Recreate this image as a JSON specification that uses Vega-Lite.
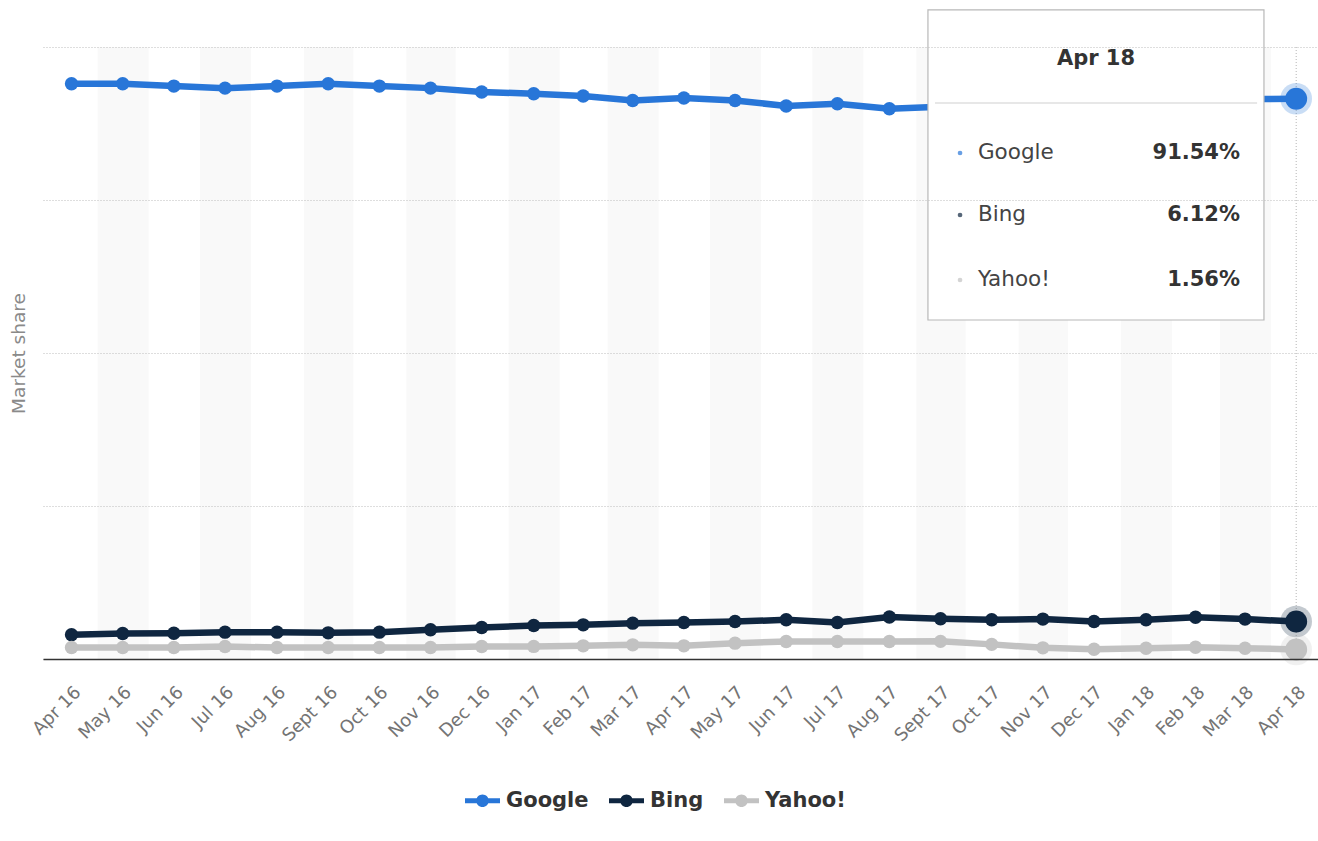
{
  "$schema": "https://vega.github.io/schema/vega-lite/v6.json",
  "autosize": {"type": "none"},
  "padding": {"left": 43, "top": 47, "right": 0, "bottom": 182},
  "width": 1275,
  "height": 612,
  "config": {
    "view": {"stroke": null},
    "font": "DejaVu Sans",
    "background": "white"
  },
  "data": {
    "values": [
      {"month": "2016-04-01", "engine": "Google", "share": 93.99},
      {"month": "2016-05-01", "engine": "Google", "share": 93.99},
      {"month": "2016-06-01", "engine": "Google", "share": 93.61},
      {"month": "2016-07-01", "engine": "Google", "share": 93.28},
      {"month": "2016-08-01", "engine": "Google", "share": 93.61},
      {"month": "2016-09-01", "engine": "Google", "share": 93.99},
      {"month": "2016-10-01", "engine": "Google", "share": 93.61},
      {"month": "2016-11-01", "engine": "Google", "share": 93.28},
      {"month": "2016-12-01", "engine": "Google", "share": 92.65},
      {"month": "2017-01-01", "engine": "Google", "share": 92.37},
      {"month": "2017-02-01", "engine": "Google", "share": 91.99},
      {"month": "2017-03-01", "engine": "Google", "share": 91.27},
      {"month": "2017-04-01", "engine": "Google", "share": 91.67},
      {"month": "2017-05-01", "engine": "Google", "share": 91.27},
      {"month": "2017-06-01", "engine": "Google", "share": 90.36},
      {"month": "2017-07-01", "engine": "Google", "share": 90.73},
      {"month": "2017-08-01", "engine": "Google", "share": 89.91},
      {"month": "2017-09-01", "engine": "Google", "share": 90.24},
      {"month": "2017-10-01", "engine": "Google", "share": 90.6},
      {"month": "2017-11-01", "engine": "Google", "share": 91.0},
      {"month": "2017-12-01", "engine": "Google", "share": 91.5},
      {"month": "2018-01-01", "engine": "Google", "share": 91.3},
      {"month": "2018-02-01", "engine": "Google", "share": 90.9},
      {"month": "2018-03-01", "engine": "Google", "share": 91.5},
      {"month": "2018-04-01", "engine": "Google", "share": 91.54},
      {"month": "2016-04-01", "engine": "Bing", "share": 3.95},
      {"month": "2016-05-01", "engine": "Bing", "share": 4.16},
      {"month": "2016-06-01", "engine": "Bing", "share": 4.22},
      {"month": "2016-07-01", "engine": "Bing", "share": 4.39},
      {"month": "2016-08-01", "engine": "Bing", "share": 4.39},
      {"month": "2016-09-01", "engine": "Bing", "share": 4.27},
      {"month": "2016-10-01", "engine": "Bing", "share": 4.39},
      {"month": "2016-11-01", "engine": "Bing", "share": 4.77},
      {"month": "2016-12-01", "engine": "Bing", "share": 5.14},
      {"month": "2017-01-01", "engine": "Bing", "share": 5.47},
      {"month": "2017-02-01", "engine": "Bing", "share": 5.58},
      {"month": "2017-03-01", "engine": "Bing", "share": 5.86},
      {"month": "2017-04-01", "engine": "Bing", "share": 5.96},
      {"month": "2017-05-01", "engine": "Bing", "share": 6.12},
      {"month": "2017-06-01", "engine": "Bing", "share": 6.4},
      {"month": "2017-07-01", "engine": "Bing", "share": 5.96},
      {"month": "2017-08-01", "engine": "Bing", "share": 6.86},
      {"month": "2017-09-01", "engine": "Bing", "share": 6.57},
      {"month": "2017-10-01", "engine": "Bing", "share": 6.4},
      {"month": "2017-11-01", "engine": "Bing", "share": 6.52},
      {"month": "2017-12-01", "engine": "Bing", "share": 6.12},
      {"month": "2018-01-01", "engine": "Bing", "share": 6.4},
      {"month": "2018-02-01", "engine": "Bing", "share": 6.81},
      {"month": "2018-03-01", "engine": "Bing", "share": 6.52},
      {"month": "2018-04-01", "engine": "Bing", "share": 6.12},
      {"month": "2016-04-01", "engine": "Yahoo!", "share": 1.87},
      {"month": "2016-05-01", "engine": "Yahoo!", "share": 1.87},
      {"month": "2016-06-01", "engine": "Yahoo!", "share": 1.87},
      {"month": "2016-07-01", "engine": "Yahoo!", "share": 2.03},
      {"month": "2016-08-01", "engine": "Yahoo!", "share": 1.87},
      {"month": "2016-09-01", "engine": "Yahoo!", "share": 1.87},
      {"month": "2016-10-01", "engine": "Yahoo!", "share": 1.87},
      {"month": "2016-11-01", "engine": "Yahoo!", "share": 1.87},
      {"month": "2016-12-01", "engine": "Yahoo!", "share": 2.03},
      {"month": "2017-01-01", "engine": "Yahoo!", "share": 2.06},
      {"month": "2017-02-01", "engine": "Yahoo!", "share": 2.15},
      {"month": "2017-03-01", "engine": "Yahoo!", "share": 2.31},
      {"month": "2017-04-01", "engine": "Yahoo!", "share": 2.15},
      {"month": "2017-05-01", "engine": "Yahoo!", "share": 2.59},
      {"month": "2017-06-01", "engine": "Yahoo!", "share": 2.85},
      {"month": "2017-07-01", "engine": "Yahoo!", "share": 2.85},
      {"month": "2017-08-01", "engine": "Yahoo!", "share": 2.85},
      {"month": "2017-09-01", "engine": "Yahoo!", "share": 2.88},
      {"month": "2017-10-01", "engine": "Yahoo!", "share": 2.39},
      {"month": "2017-11-01", "engine": "Yahoo!", "share": 1.82},
      {"month": "2017-12-01", "engine": "Yahoo!", "share": 1.6},
      {"month": "2018-01-01", "engine": "Yahoo!", "share": 1.77},
      {"month": "2018-02-01", "engine": "Yahoo!", "share": 1.93},
      {"month": "2018-03-01", "engine": "Yahoo!", "share": 1.77},
      {"month": "2018-04-01", "engine": "Yahoo!", "share": 1.56}
    ],
    "format": {"parse": {"month": "date"}}
  },
  "layer": [
    {
      "transform": [{"filter": "datum.engine === 'Google' && utcmonth(datum.month) % 2 === 0"}],
      "mark": {"type": "bar", "color": "#f9f9f9"},
      "encoding": {
        "x": {
          "field": "month", "type": "temporal", "timeUnit": "utcyearmonth",
          "scale": {"domain": [{"year": 2016, "month": 3, "date": 30, "utc": true}, {"year": 2018, "month": 4, "date": 29, "utc": true}]},
          "axis": {
            "title": null,
            "values": [
              {"year": 2016, "month": 4, "date": 16, "utc": true},
              {"year": 2016, "month": 5, "date": 16, "utc": true},
              {"year": 2016, "month": 6, "date": 16, "utc": true},
              {"year": 2016, "month": 7, "date": 16, "utc": true},
              {"year": 2016, "month": 8, "date": 16, "utc": true},
              {"year": 2016, "month": 9, "date": 16, "utc": true},
              {"year": 2016, "month": 10, "date": 16, "utc": true},
              {"year": 2016, "month": 11, "date": 16, "utc": true},
              {"year": 2016, "month": 12, "date": 16, "utc": true},
              {"year": 2017, "month": 1, "date": 16, "utc": true},
              {"year": 2017, "month": 2, "date": 15, "utc": true},
              {"year": 2017, "month": 3, "date": 16, "utc": true},
              {"year": 2017, "month": 4, "date": 16, "utc": true},
              {"year": 2017, "month": 5, "date": 16, "utc": true},
              {"year": 2017, "month": 6, "date": 16, "utc": true},
              {"year": 2017, "month": 7, "date": 16, "utc": true},
              {"year": 2017, "month": 8, "date": 16, "utc": true},
              {"year": 2017, "month": 9, "date": 16, "utc": true},
              {"year": 2017, "month": 10, "date": 16, "utc": true},
              {"year": 2017, "month": 11, "date": 16, "utc": true},
              {"year": 2017, "month": 12, "date": 16, "utc": true},
              {"year": 2018, "month": 1, "date": 16, "utc": true},
              {"year": 2018, "month": 2, "date": 15, "utc": true},
              {"year": 2018, "month": 3, "date": 16, "utc": true},
              {"year": 2018, "month": 4, "date": 16, "utc": true}
            ],
            "labelExpr": "replace(utcFormat(datum.value, '%b %y'), 'Sep ', 'Sept ')",
            "labelAngle": -45,
            "labelAlign": "right",
            "labelBaseline": "top",
            "labelPadding": 24,
            "labelFontSize": 18,
            "labelColor": "#747474",
            "labelFont": "DejaVu Sans",
            "labelOverlap": false,
            "labelBound": false,
            "labelFlush": false,
            "ticks": false,
            "grid": false,
            "domainColor": "#333333",
            "domainWidth": 1.5,
            "zindex": 1
          }
        },
        "y": {"datum": 100, "type": "quantitative",
          "scale": {"domain": [0, 100], "nice": false, "zero": true},
          "axis": {
            "values": [0, 25, 50, 75, 100],
            "labels": false, "ticks": false, "domain": false,
            "grid": true, "gridDash": [1, 2], "gridColor": "#bdbdbd", "gridWidth": 1,
            "title": "Market share", "titleFontSize": 18.5, "titleFontWeight": "normal",
            "titleColor": "#8a8a8a", "titleFont": "DejaVu Sans", "titlePadding": 15,
            "zindex": 1
          }
        },
        "y2": {"datum": 0}
      }
    },
    {
      "data": {"values": [{}]},
      "mark": {"type": "rule", "color": "#b5b5b5", "strokeDash": [1, 2], "strokeWidth": 1},
      "encoding": {
        "x": {"datum": {"year": 2018, "month": 4, "date": 16, "utc": true}, "type": "temporal"}
      }
    },
    {
      "mark": {"type": "line", "strokeWidth": 6.5, "interpolate": "linear"},
      "encoding": {
        "x": {"field": "month", "type": "temporal", "timeUnit": "utcyearmonth", "bandPosition": 0.5},
        "y": {"field": "share", "type": "quantitative"},
        "color": {"field": "engine", "type": "nominal",
          "scale": {"domain": ["Google", "Bing", "Yahoo!"], "range": ["#2876d8", "#0f2640", "#c2c2c2"]},
          "legend": {
            "orient": "none", "legendX": 422, "legendY": 736, "direction": "horizontal",
            "title": null,
            "symbolType": "M-1,-0.14 L1,-0.14 L1,0.14 L-1,0.14 Z M-0.36,0 A0.36,0.36 0 1,1 0.36,0 A0.36,0.36 0 1,1 -0.36,0 Z",
            "symbolSize": 1225, "symbolStrokeWidth": 0, "symbolOpacity": 1,
            "labelFont": "DejaVu Sans", "labelFontSize": 21, "labelFontWeight": "bold",
            "labelColor": "#333333", "labelOffset": 6, "columnPadding": 20,
            "encode": {"symbols": {"update": {"fill": {"scale": "color", "field": "value"}, "strokeWidth": {"value": 0}, "opacity": {"value": 1}}}}
          }
        },
        "detail": {"field": "engine"}
      }
    },
    {
      "mark": {"type": "point", "filled": true, "size": 180, "opacity": 1, "strokeWidth": 0},
      "encoding": {
        "x": {"field": "month", "type": "temporal", "timeUnit": "utcyearmonth", "bandPosition": 0.5},
        "y": {"field": "share", "type": "quantitative"},
        "color": {"field": "engine", "type": "nominal"}
      }
    },
    {
      "transform": [{"filter": "utcyear(datum.month) === 2018 && utcmonth(datum.month) === 3"}],
      "mark": {"type": "point", "filled": true, "size": 1000, "opacity": 0.25, "strokeWidth": 0},
      "encoding": {
        "x": {"field": "month", "type": "temporal", "timeUnit": "utcyearmonth", "bandPosition": 0.5},
        "y": {"field": "share", "type": "quantitative"},
        "color": {"field": "engine", "type": "nominal"}
      }
    },
    {
      "transform": [{"filter": "utcyear(datum.month) === 2018 && utcmonth(datum.month) === 3"}],
      "mark": {"type": "point", "filled": true, "size": 480, "opacity": 1, "strokeWidth": 0},
      "encoding": {
        "x": {"field": "month", "type": "temporal", "timeUnit": "utcyearmonth", "bandPosition": 0.5},
        "y": {"field": "share", "type": "quantitative"},
        "color": {"field": "engine", "type": "nominal"}
      }
    },
    {
      "data": {"values": [{}]},
      "mark": {"type": "rect", "fill": "white", "stroke": "#b8b8b8", "strokeWidth": 1.2, "clip": false},
      "encoding": {
        "x": {"datum": {"year": 2017, "month": 9, "date": 8, "hours": 12, "utc": true}, "type": "temporal"},
        "x2": {"datum": {"year": 2018, "month": 3, "date": 27, "hours": 19, "utc": true}},
        "y": {"datum": 106.05, "type": "quantitative"},
        "y2": {"datum": 55.39}
      }
    },
    {
      "data": {"values": [{}]},
      "mark": {"type": "rule", "color": "#cfcfcf", "strokeWidth": 1.2, "clip": false},
      "encoding": {
        "x": {"datum": {"year": 2017, "month": 9, "date": 12, "hours": 17, "utc": true}, "type": "temporal"},
        "x2": {"datum": {"year": 2018, "month": 3, "date": 23, "hours": 17, "utc": true}},
        "y": {"datum": 90.85, "type": "quantitative"}
      }
    },
    {
      "data": {"values": [{}]},
      "mark": {"type": "text", "text": "Apr 18", "font": "DejaVu Sans", "fontSize": 21, "fontWeight": "bold", "color": "#333333", "align": "center", "baseline": "middle", "clip": false},
      "encoding": {
        "x": {"datum": {"year": 2017, "month": 12, "date": 17, "hours": 16, "utc": true}, "type": "temporal"},
        "y": {"datum": 98.1, "type": "quantitative"}
      }
    },
    {
      "data": {"values": [{}]},
      "mark": {"type": "point", "filled": true, "size": 22, "color": "#2876d8", "strokeWidth": 0, "clip": false},
      "encoding": {
        "x": {"datum": {"year": 2017, "month": 9, "date": 27, "hours": 15, "utc": true}, "type": "temporal"},
        "y": {"datum": 82.68, "type": "quantitative"}
      }
    },
    {
      "data": {"values": [{}]},
      "mark": {"type": "point", "filled": true, "size": 22, "color": "#0f2640", "strokeWidth": 0, "clip": false},
      "encoding": {
        "x": {"datum": {"year": 2017, "month": 9, "date": 27, "hours": 15, "utc": true}, "type": "temporal"},
        "y": {"datum": 72.55, "type": "quantitative"}
      }
    },
    {
      "data": {"values": [{}]},
      "mark": {"type": "point", "filled": true, "size": 22, "color": "#c2c2c2", "strokeWidth": 0, "clip": false},
      "encoding": {
        "x": {"datum": {"year": 2017, "month": 9, "date": 27, "hours": 15, "utc": true}, "type": "temporal"},
        "y": {"datum": 61.93, "type": "quantitative"}
      }
    },
    {
      "data": {"values": [{}]},
      "mark": {"type": "text", "text": "Google", "font": "DejaVu Sans", "fontSize": 21.5, "color": "#444444", "align": "left", "baseline": "middle", "clip": false},
      "encoding": {
        "x": {"datum": {"year": 2017, "month": 10, "date": 8, "hours": 7, "utc": true}, "type": "temporal"},
        "y": {"datum": 82.68, "type": "quantitative"}
      }
    },
    {
      "data": {"values": [{}]},
      "mark": {"type": "text", "text": "Bing", "font": "DejaVu Sans", "fontSize": 21.5, "color": "#444444", "align": "left", "baseline": "middle", "clip": false},
      "encoding": {
        "x": {"datum": {"year": 2017, "month": 10, "date": 8, "hours": 7, "utc": true}, "type": "temporal"},
        "y": {"datum": 72.55, "type": "quantitative"}
      }
    },
    {
      "data": {"values": [{}]},
      "mark": {"type": "text", "text": "Yahoo!", "font": "DejaVu Sans", "fontSize": 21.5, "color": "#444444", "align": "left", "baseline": "middle", "clip": false},
      "encoding": {
        "x": {"datum": {"year": 2017, "month": 10, "date": 8, "hours": 7, "utc": true}, "type": "temporal"},
        "y": {"datum": 61.93, "type": "quantitative"}
      }
    },
    {
      "data": {"values": [{}]},
      "mark": {"type": "text", "text": "91.54%", "font": "DejaVu Sans", "fontSize": 21, "fontWeight": "bold", "color": "#333333", "align": "right", "baseline": "middle", "clip": false},
      "encoding": {
        "x": {"datum": {"year": 2018, "month": 3, "date": 13, "hours": 12, "utc": true}, "type": "temporal"},
        "y": {"datum": 82.68, "type": "quantitative"}
      }
    },
    {
      "data": {"values": [{}]},
      "mark": {"type": "text", "text": "6.12%", "font": "DejaVu Sans", "fontSize": 21, "fontWeight": "bold", "color": "#333333", "align": "right", "baseline": "middle", "clip": false},
      "encoding": {
        "x": {"datum": {"year": 2018, "month": 3, "date": 13, "hours": 12, "utc": true}, "type": "temporal"},
        "y": {"datum": 72.55, "type": "quantitative"}
      }
    },
    {
      "data": {"values": [{}]},
      "mark": {"type": "text", "text": "1.56%", "font": "DejaVu Sans", "fontSize": 21, "fontWeight": "bold", "color": "#333333", "align": "right", "baseline": "middle", "clip": false},
      "encoding": {
        "x": {"datum": {"year": 2018, "month": 3, "date": 13, "hours": 12, "utc": true}, "type": "temporal"},
        "y": {"datum": 61.93, "type": "quantitative"}
      }
    }
  ]
}
